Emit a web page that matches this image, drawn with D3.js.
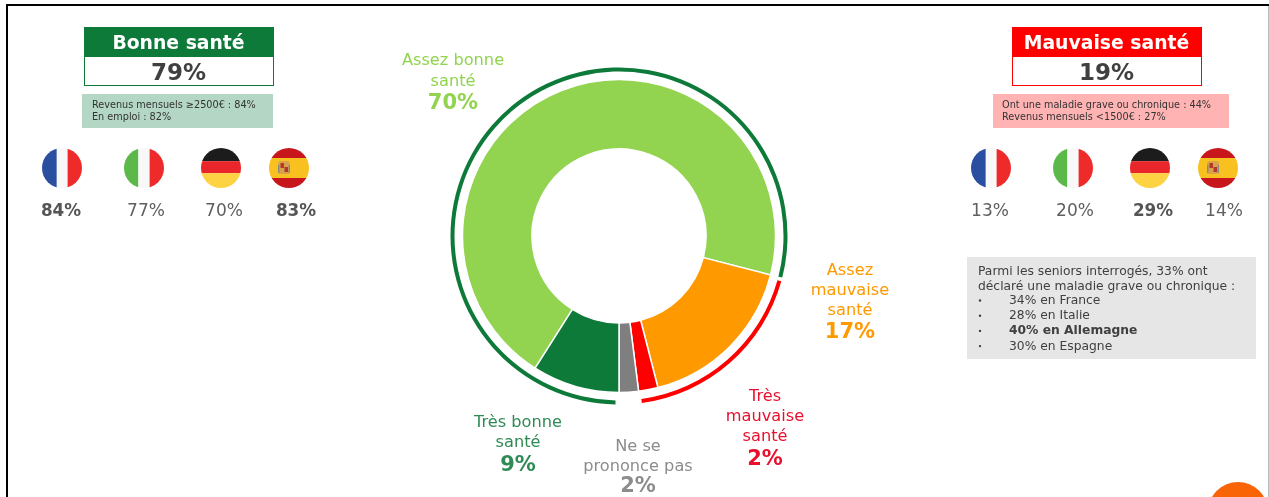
<!DOCTYPE html>
<html lang="fr"><head><meta charset="utf-8">
<script src="https://cdn.jsdelivr.net/npm/d3@7"></script>
<style>html,body{margin:0;padding:0;background:#fff}svg{display:block;filter:blur(.35px)}text{font-family:"DejaVu Sans",Verdana,sans-serif}</style>
</head><body><svg id="c" width="1269" height="497"></svg>
<script>
const sliceLabels=["Assez bonne santé","Assez mauvaise santé","Très mauvaise santé","Ne se prononce pas","Très bonne santé"];
const sliceValues=[70,17,2,2,9];
const sliceColors=["#92d350","#ff9900","#ff0000","#7f7f7f","#0e7a3a"];
const groupNames=["Bonne santé","Mauvaise santé","Autre"];
const groupValues=[79,19,2];
const groupColors=["#0e7a3a","#ff0000","none"];
const countries=["France","Italie","Allemagne","Espagne"];
const goodByCountry=[84,77,70,83];
const badByCountry=[13,20,29,14];
const goodBold=[true,false,false,true];
const badBold=[false,false,true,false];
const goodNote=["Revenus mensuels ≥2500€ : 84%","En emploi : 82%"];
const badNote=["Ont une maladie grave ou chronique : 44%","Revenus mensuels <1500€ : 27%"];
const infoIntro=["Parmi les seniors interrogés, 33% ont","déclaré une maladie grave ou chronique :"];
const infoItems=["34% en France","28% en Italie","40% en Allemagne","30% en Espagne"];

const svg=d3.select("#c");
// frame
svg.append("rect").attr("x",6).attr("y",4).attr("width",1263).attr("height",2).attr("fill","#000");
svg.append("rect").attr("x",6).attr("y",4).attr("width",2).attr("height",493).attr("fill","#000");
svg.append("rect").attr("x",1268).attr("y",6).attr("width",1).attr("height",491).attr("fill","#bbb");
// corner badge
const defs=svg.append("defs");
defs.append("clipPath").attr("id","frame").append("rect").attr("width",1268).attr("height",497);
svg.append("circle").attr("cx",1238).attr("cy",512).attr("r",30).attr("fill","#f96406").attr("clip-path","url(#frame)");

// donut
const cx=619,cy=236;
const deg=Math.PI/180;
const g=svg.append("g").attr("transform",`translate(${cx},${cy})`);
const pie=d3.pie().value(d=>d).sort(null).startAngle(212.4*deg).endAngle(572.4*deg);
const arc=d3.arc().innerRadius(87).outerRadius(156.5);
g.selectAll("path.s").data(pie(sliceValues)).join("path").attr("class","s")
 .attr("d",arc).attr("fill",(d,i)=>sliceColors[i]).attr("stroke","#fff").attr("stroke-width",1.5);
const ring=d3.pie().value(d=>d).sort(null).startAngle(180*deg).endAngle(540*deg);
const ringArc=d3.arc().innerRadius(164.5).outerRadius(168.5);
g.selectAll("path.r").data(ring(groupValues)).join("path").attr("class","r")
 .attr("d",d=>ringArc({startAngle:d.startAngle+1.2*deg,endAngle:d.endAngle-(d.index===0?0.1:0.6)*deg}))
 .attr("fill",(d,i)=>groupColors[i]);

// slice labels
function label(x,lines,pct,color,y0,step,pctY){
  lines.forEach((t,i)=>svg.append("text").attr("x",x).attr("y",y0+i*step).attr("text-anchor","middle")
    .attr("font-size",16.2).attr("fill",color).text(t));
  svg.append("text").attr("x",x).attr("y",pctY).attr("text-anchor","middle").attr("font-size",21)
    .attr("font-weight","bold").attr("fill",color).text(pct+"%");
}
label(453,["Assez bonne","santé"],sliceValues[0],sliceColors[0],65,21,109);
label(850,["Assez","mauvaise","santé"],sliceValues[1],sliceColors[1],275,20,338);
label(765,["Très","mauvaise","santé"],sliceValues[2],"#e8112d",401,20,465);
label(638,["Ne se","prononce pas"],sliceValues[3],"#8c8c8c",451,20,492);
label(518,["Très bonne","santé"],sliceValues[4],"#2f8a55",427,20,471);

// header boxes
function header(x,w,title,pct,color){
  svg.append("rect").attr("x",x+.5).attr("y",27.5).attr("width",w).attr("height",58).attr("fill","#fff").attr("stroke",color).attr("stroke-width",1);
  svg.append("rect").attr("x",x).attr("y",27).attr("width",w+1).attr("height",30).attr("fill",color);
  svg.append("text").attr("x",x+w/2).attr("y",49).attr("text-anchor","middle").attr("font-size",18.8).attr("font-weight","bold").attr("fill","#fff").text(title);
  svg.append("text").attr("x",x+w/2).attr("y",80).attr("text-anchor","middle").attr("font-size",23).attr("font-weight","bold").attr("fill","#404040").text(pct+"%");
}
header(84,189,groupNames[0],groupValues[0],"#0e7a3a");
header(1012,189,groupNames[1],groupValues[1],"#ff0000");

function note(x,w,lines,fill,tx){
  svg.append("rect").attr("x",x).attr("y",94).attr("width",w).attr("height",34).attr("fill",fill);
  lines.forEach((t,i)=>svg.append("text").attr("x",tx).attr("y",108+i*11.5).attr("font-size",9.7).attr("fill","#333").text(t));
}
note(82,191,goodNote,"#b3d7c4",92);
note(993,236,badNote,"#ffb3b3",1002);

// flags
const flagStripes={
 France:{dir:"v",stops:[[0,.37,"#2a4ea0"],[.37,.64,"#f8f8f8"],[.64,1,"#ee2a2a"]]},
 Italie:{dir:"v",stops:[[0,.36,"#5cb848"],[.36,.64,"#f8f8f8"],[.64,1,"#ee2a2a"]]},
 Allemagne:{dir:"h",stops:[[0,.33,"#1c1c1c"],[.33,.63,"#e9262a"],[.63,1,"#fdd243"]]},
 Espagne:{dir:"h",stops:[[0,.25,"#c8161d"],[.25,.75,"#f8c11f"],[.75,1,"#c8161d"]]}
};
const flagR=20;
function flags(xs,vals,bold,idp){
  xs.forEach((x,i)=>{
    const c=countries[i],y=168,id=idp+i,f=flagStripes[c];
    defs.append("clipPath").attr("id",id).append("circle").attr("cx",x).attr("cy",y).attr("r",flagR);
    const fg=svg.append("g").attr("clip-path",`url(#${id})`);
    f.stops.forEach(s=>{
      if(f.dir==="v") fg.append("rect").attr("x",x-flagR+s[0]*2*flagR).attr("y",y-flagR).attr("width",(s[1]-s[0])*2*flagR).attr("height",2*flagR).attr("fill",s[2]);
      else fg.append("rect").attr("x",x-flagR).attr("y",y-flagR+s[0]*2*flagR).attr("width",2*flagR).attr("height",(s[1]-s[0])*2*flagR).attr("fill",s[2]);
    });
    if(c==="Espagne"){
      fg.append("rect").attr("x",x-11).attr("y",y-7).attr("width",12).attr("height",13).attr("rx",3).attr("fill","#d9a24a");
      fg.append("rect").attr("x",x-8.5).attr("y",y-5).attr("width",3.5).attr("height",5).attr("fill","#b5392a");
      fg.append("rect").attr("x",x-4.5).attr("y",y-1).attr("width",3.5).attr("height",5).attr("fill","#b5392a");
      fg.append("rect").attr("x",x-11).attr("y",y-3).attr("width",1.5).attr("height",8).attr("fill","#8f8a80");
      fg.append("rect").attr("x",x-.5).attr("y",y-3).attr("width",1.5).attr("height",8).attr("fill","#8f8a80");
    }
    svg.append("text").attr("x",labelX[idp][i]).attr("y",216).attr("text-anchor","middle").attr("font-size",bold[i]?16.8:17)
      .attr("font-weight",bold[i]?"bold":"normal").attr("fill",bold[i]?"#555":"#5f5f5f").text(vals[i]+"%");
  });
}
const labelX={a:[61,146,224,296],b:[990,1075,1153,1224]};
flags([62,144,221,289],goodByCountry,goodBold,"a");
flags([991,1073,1150,1218],badByCountry,badBold,"b");

// info box
svg.append("rect").attr("x",967).attr("y",257).attr("width",289).attr("height",102).attr("fill","#e6e6e6");
infoIntro.forEach((t,i)=>svg.append("text").attr("x",978).attr("y",275+i*14.6).attr("font-size",12.3).attr("fill","#404040").text(t));
infoItems.forEach((t,i)=>{
  const y=304+i*15.2;
  svg.append("circle").attr("cx",980).attr("cy",y-3.5).attr("r",1.2).attr("fill","#404040");
  svg.append("text").attr("x",1009).attr("y",y).attr("font-size",12.3).attr("font-weight",i===2?"bold":"normal").attr("fill","#404040").text(t);
});
</script></body></html>
